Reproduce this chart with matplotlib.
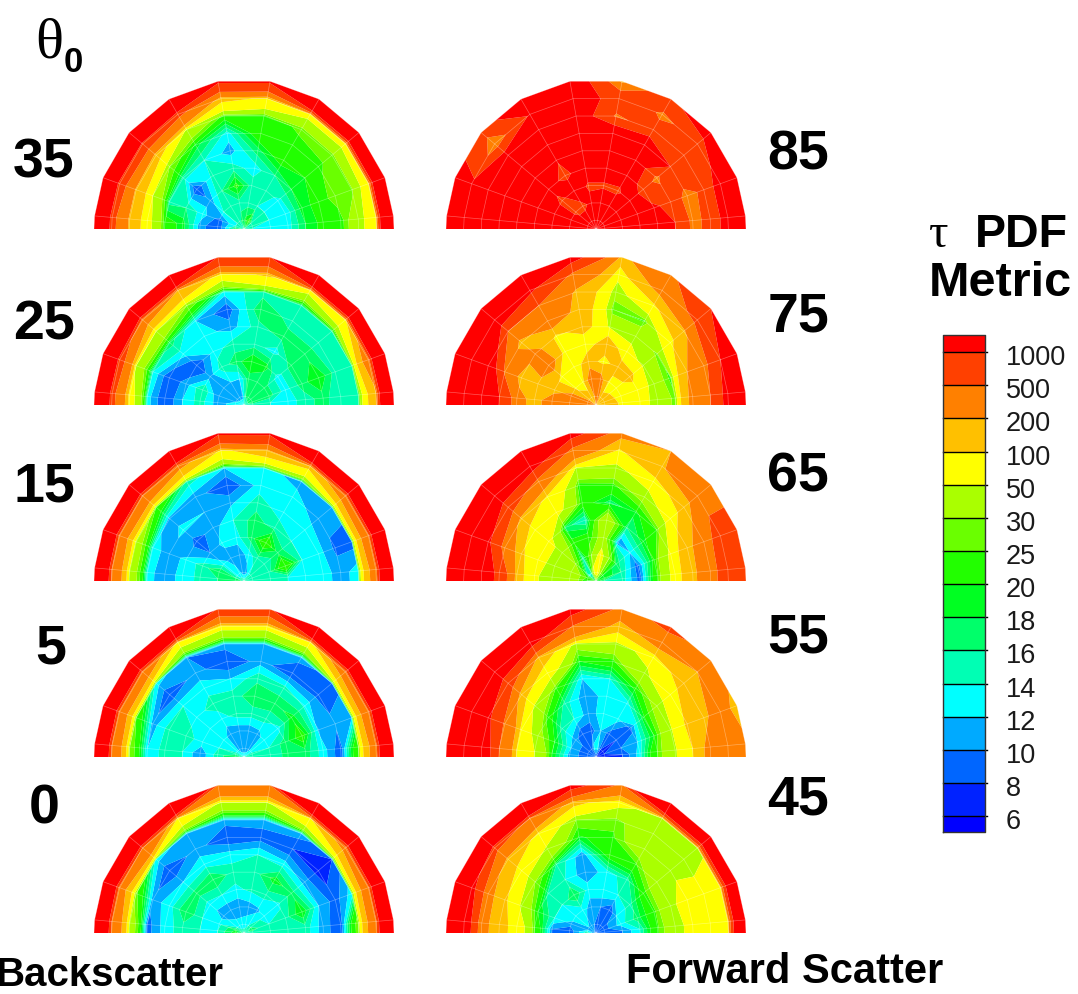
#! /usr/bin/env python3
"""Tau PDF metric on polar half discs, one per incidence angle."""
import numpy as np
from matplotlib import pyplot as plt

plt.rcParams['font.family'] = ['Liberation Sans', 'DejaVu Sans']

# Polar angle of the rings (deg) and azimuth of the spokes, left to right.
rings = [85, 75, 65, 55, 45, 35, 25, 15, 5]
azimuths = [175, 160, 140, 120, 100, 80, 60, 40, 20, 5]

levels = [6, 8, 10, 12, 14, 16, 18, 20, 25, 30, 50, 100, 200, 500, 1000]
band_colors = ['#0000ff', '#0022ff', '#0066ff', '#00aaff', '#00ffff', '#00ffb4',
               '#00ff6a', '#00ff22', '#22ff00', '#6aff00', '#aaff00', '#ffff00',
               '#ffc000', '#ff8000', '#ff4000', '#ff0000']

# Backscatter, one row per ring (outer first), one column per azimuth.
back_35 = [[4000, 4000, 4000, 4000, 1100, 1100, 4000, 4000, 4000, 4000],
           [600, 700, 800, 600, 120, 90, 60, 60, 70, 70],
           [170, 170, 130, 45, 22, 22, 26, 27, 28, 40],
           [60, 50, 30, 19, 13, 23, 23, 24, 28, 22],
           [22, 15, 15, 14, 11, 17, 22, 20, 21, 21],
           [19, 16, 8, 15, 15, 13, 16, 18, 19, 18],
           [11, 13, 11, 16, 21, 15, 16, 13, 12, 13],
           [8, 9, 14, 15, 15, 15, 14, 14, 14, 13],
           [17, 14, 14, 15, 17, 19, 22, 16, 15, 14]]
back_25 = [[4000, 4000, 4000, 4000, 950, 950, 4000, 4000, 4000, 4000],
           [600, 700, 300, 200, 70, 110, 60, 90, 300, 170],
           [65, 45, 50, 30, 13, 15, 15, 16, 16, 16],
           [13, 14, 17, 12, 8.5, 18, 15, 15, 15, 14],
           [8, 8, 13, 13, 11, 15, 17, 17, 20, 17],
           [12, 11, 8, 13, 15, 15, 13, 17, 17, 15],
           [15, 16, 11, 15, 17, 20, 19, 13, 13, 13],
           [11, 10, 11, 12, 12, 17, 16, 17, 17, 14],
           [13, 12, 11, 11, 11, 16, 17, 18, 18, 15]]
back_15 = [[4000, 4000, 4000, 4000, 1100, 1100, 4000, 4000, 4000, 4000],
           [400, 350, 400, 250, 85, 150, 120, 300, 350, 300],
           [42, 40, 25, 15, 12, 13, 11, 11, 9, 13],
           [13, 13, 11, 11, 8, 13, 13, 11, 9.5, 11],
           [10.5, 11, 12.5, 12, 11.5, 15, 13, 13, 13, 13],
           [13, 12.5, 9, 11, 14, 17, 15, 14, 14, 13],
           [14.5, 15, 10, 12.5, 13, 17, 23, 17, 24, 14],
           [16, 18, 13, 11, 10.5, 13, 15, 15, 15, 15],
           [18, 16, 13, 13, 11, 11, 13, 15, 15, 15]]
back_5 = [[4000, 4000, 4000, 4000, 800, 800, 4000, 4000, 4000, 4000],
          [400, 350, 350, 70, 60, 60, 70, 300, 350, 300],
          [30, 25, 13, 10, 11, 11, 11, 9, 12, 25],
          [12, 11, 8, 11, 8, 11, 8, 9, 10.5, 8.5],
          [15, 15, 14, 13, 12, 15.5, 15, 13.5, 11.5, 13],
          [14, 15, 13, 15, 15, 17.5, 17, 19, 22, 17],
          [10.5, 13, 13, 13, 15, 15, 15, 13, 17, 17],
          [15, 14, 13, 11, 10.5, 10.5, 11, 13, 14, 14],
          [18, 15, 13, 11, 10, 10, 11, 13, 15, 15]]
back_0 = [[4000, 4000, 4000, 4000, 480, 480, 4000, 4000, 4000, 4000],
          [400, 300, 500, 90, 45, 45, 90, 250, 350, 350],
          [40, 26, 13, 11, 11, 11, 11, 8, 13, 28],
          [9, 11, 8, 11, 8, 9, 8, 7, 9, 8.5],
          [13, 13, 12, 13, 13, 14, 13, 11, 12, 11],
          [15, 18, 17, 18, 15, 15, 19, 17, 20, 15],
          [14, 14, 13, 14, 13.5, 14.5, 15, 13.5, 15, 15],
          [14, 13.5, 11, 10.5, 10.5, 11, 11.5, 13, 14, 14],
          [19, 18, 14, 13, 13, 13, 14, 16, 17, 15]]

# Forward scatter, same layout.
fwd_85 = [[1400, 1200, 700, 1500, 1500, 150, 800, 1500, 1500, 1500],
          [1500, 1100, 250, 1050, 1300, 800, 450, 600, 1300, 1300],
          [1500, 1500, 1300, 1500, 1400, 450, 600, 600, 600, 600],
          [1500, 1500, 1500, 1500, 1500, 1500, 1500, 1000, 350, 400],
          [1500, 1500, 1500, 1050, 1500, 1500, 1500, 400, 800, 1000],
          [1500, 1500, 1300, 800, 1500, 1500, 1500, 700, 1100, 1500],
          [1500, 1500, 800, 1500, 900, 900, 850, 1500, 1500, 1500],
          [1500, 1500, 800, 800, 1200, 1500, 1500, 1500, 1500, 1500],
          [1500, 1500, 1500, 1500, 1300, 1500, 1500, 1500, 1500, 1500]]
fwd_75 = [[4000, 4000, 4000, 4000, 1300, 150, 400, 1000, 1500, 1500],
          [1500, 1500, 1500, 1100, 400, 60, 250, 600, 1000, 1200],
          [1500, 1500, 500, 500, 170, 35, 85, 170, 350, 500],
          [1000, 450, 130, 330, 150, 25, 24, 80, 200, 250],
          [280, 130, 250, 80, 130, 45, 40, 28, 23, 27],
          [130, 150, 300, 65, 60, 150, 60, 45, 40, 42],
          [300, 150, 70, 60, 140, 75, 130, 120, 70, 60],
          [300, 250, 85, 75, 300, 250, 80, 80, 70, 70],
          [300, 300, 150, 120, 200, 300, 110, 120, 150, 200]]
fwd_65 = [[4000, 4000, 4000, 4000, 1300, 250, 200, 300, 700, 1000],
          [1500, 1500, 1500, 1300, 350, 85, 190, 300, 700, 800],
          [1500, 1100, 700, 350, 45, 40, 70, 130, 300, 300],
          [800, 350, 150, 85, 22, 23, 35, 65, 150, 170],
          [130, 110, 70, 60, 22, 17, 19, 25, 55, 60],
          [55, 60, 60, 17, 14, 40, 16, 19, 21, 24],
          [35, 40, 40, 21, 22, 35, 10, 12, 9, 9],
          [40, 38, 30, 15, 30, 60, 30, 17, 16, 15],
          [20, 24, 13, 14, 60, 70, 30, 20, 20, 16]]
fwd_55 = [[4000, 4000, 4000, 4000, 1300, 350, 600, 350, 130, 250],
          [1500, 1500, 1500, 1300, 450, 130, 300, 200, 300, 350],
          [1500, 1100, 700, 150, 35, 40, 60, 130, 160, 250],
          [500, 450, 130, 65, 20, 23, 45, 70, 110, 100],
          [90, 75, 45, 24, 12, 14, 21, 35, 45, 45],
          [50, 35, 22, 15, 10.5, 13, 13, 19, 20, 25],
          [20, 20, 15, 14, 11, 13, 13, 9, 12, 13],
          [11, 12, 11, 8, 9, 12, 9, 8, 10, 8],
          [9, 8, 9, 8, 13, 13, 8, 8, 8, 8]]
fwd_45 = [[4000, 4000, 4000, 4000, 1300, 400, 3000, 3000, 3000, 3000],
          [1500, 1200, 600, 450, 120, 60, 35, 45, 65, 70],
          [250, 250, 160, 80, 30, 27, 40, 40, 60, 70],
          [130, 110, 70, 45, 19, 24, 40, 45, 60, 60],
          [70, 45, 30, 16, 10.5, 22, 24, 40, 45, 40],
          [25, 20, 15, 14, 10.5, 13, 15, 22, 23, 24],
          [10, 14, 14, 18, 13, 14, 14, 15, 17, 14],
          [8.5, 11, 14, 13, 11, 10, 8, 12, 13, 10],
          [15, 12, 12, 11, 10, 9, 9, 9, 9, 9]]

panels = [(back_35, 244, 230, '35', 44, 164), (back_25, 244, 406, '25', 44, 326),
          (back_15, 244, 582, '15', 44, 487), (back_5, 244, 758, '5', 51, 649),
          (back_0, 244, 934, '0', 44, 810),
          (fwd_85, 596, 230, '85', 798, 156), (fwd_75, 596, 406, '75', 798, 318),
          (fwd_65, 596, 582, '65', 798, 478), (fwd_55, 596, 758, '55', 798, 639),
          (fwd_45, 596, 934, '45', 798, 801)]

W, H = 1078, 995
RADIUS = 150.0  # pixels for the 85 deg ring

fig = plt.figure(figsize=(W / 100, H / 100), dpi=100)

r_all = np.concatenate(([0.0], np.array(rings[::-1], dtype=float)))
az_all = np.radians(np.array([180] + azimuths + [0], dtype=float))
rr, aa = np.meshgrid(r_all, az_all, indexing='ij')
xx = rr * np.cos(aa)
yy = rr * np.sin(aa)
scale = RADIUS / 85.0

for data, cx, cy, name, lx, ly in panels:
    z = np.array(data, dtype=float)[::-1]
    z = np.column_stack((z[:, 0], z, z[:, -1]))
    centre = np.full((1, z.shape[1]), np.median(z[0]))
    z = np.vstack((centre, z))

    w = 2 * RADIUS + 4
    h = RADIUS + 4
    ax = fig.add_axes([(cx - w / 2) / W, 1 - cy / H, w / W, h / H])
    ax.set_xlim(-w / 2 / scale, w / 2 / scale)
    ax.set_ylim(0, h / scale)
    ax.axis('off')
    # Values run linearly across a mesh cell, as the bands in the picture do.
    ax.contourf(xx, yy, z, levels=[0] + levels + [10000], colors=band_colors,
                antialiased=True)

    # thin mesh over the colours
    for i in range(1, len(r_all)):
        ax.plot(xx[i], yy[i], color='white', lw=0.5, alpha=0.35)
    for j in range(1, len(az_all) - 1):
        ax.plot(xx[:, j], yy[:, j], color='white', lw=0.5, alpha=0.35)

    fig.text(lx / W, 1 - ly / H, name, fontsize=40, fontweight='bold',
             ha='center', va='center')

# colour bar, one equal box per band
cax = fig.add_axes([943 / W, 1 - 833 / H, 42 / W, (833 - 336) / H])
cax.axis('off')
for i, col in enumerate(band_colors):
    cax.bar(0.5, 1, width=1, bottom=i - 1, color=col, linewidth=0)
cax.set_xlim(0, 1)
cax.set_ylim(-0.48, len(levels) - 1 + 0.52)
for i, lev in enumerate(levels):
    cax.plot([0, 1.05], [i, i], color='black', lw=1, clip_on=False)
    cax.text(1.5, i - 0.15, str(lev), fontsize=19.5, va='center', ha='left',
             clip_on=False, color='#1a1a1a')
cax.plot([0, 1, 1, 0, 0], [-0.48, -0.48, 14.52, 14.52, -0.48], color='#333333',
         lw=1, clip_on=False)

# headings
fig.text(35 / W, 1 - 58 / H, '\u03b8', fontsize=42, family='Liberation Serif',
         ha='left', va='baseline')
fig.text(64 / W, 1 - 72 / H, '0', fontsize=25, fontweight='bold', ha='left',
         va='baseline')
fig.text(929 / W, 1 - 247 / H, '\u03c4', fontsize=35, family='Liberation Serif',
         ha='left', va='baseline')
fig.text(975 / W, 1 - 247 / H, 'PDF', fontsize=33.5, fontweight='bold', ha='left',
         va='baseline')
fig.text(929 / W, 1 - 296 / H, 'Metric', fontsize=35, fontweight='bold', ha='left',
         va='baseline')
fig.text(-5 / W, 1 - 986 / H, 'Backscatter', fontsize=29, fontweight='bold',
         ha='left', va='baseline')
fig.text(626 / W, 1 - 983 / H, 'Forward Scatter', fontsize=30, fontweight='bold',
         ha='left', va='baseline')

plt.savefig('out.png', dpi=100)
